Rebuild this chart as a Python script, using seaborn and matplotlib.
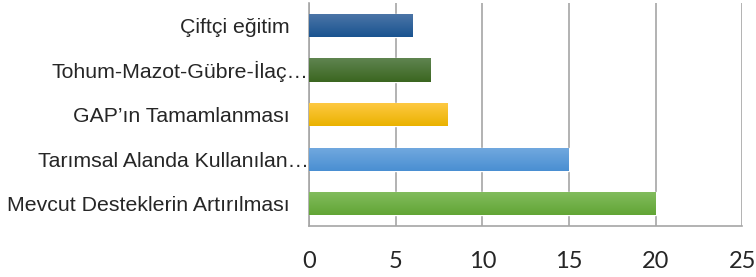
import numpy as np
import pandas as pd
import seaborn as sns
import matplotlib.pyplot as plt
from matplotlib.colors import LinearSegmentedColormap
from matplotlib.ticker import MultipleLocator, FixedLocator
import matplotlib.transforms as mtransforms

# data, top bar first
categories = ['Çiftçi eğitim', 'Tohum-Mazot-Gübre-İlaç…', 'GAP’ın Tamamlanması',
              'Tarımsal Alanda Kullanılan…', 'Mevcut Desteklerin Artırılması']
values = [6, 7, 8, 15, 20]
x_ticks = [0, 5, 10, 15, 20, 25]

# excel-ish gradient colours (top, bottom)
top_colors = ['#4d76a8', '#5f8450', '#ffca45', '#72a9df', '#83bd5f']
bottom_colors = ['#1a5490', '#3b6620', '#eab200', '#4a8fd2', '#62a535']

df = pd.DataFrame({'Kategori': categories, 'Değer': values})

sns.set_style('white')
plt.rcParams['font.family'] = ['Liberation Sans', 'DejaVu Sans']

fig = plt.figure(figsize=(7.56, 2.77), dpi=100)
ax = fig.add_axes([0.409, 0.184, 0.573, 0.805])

sns.barplot(data=df, x='Değer', y='Kategori', hue='Kategori', palette=bottom_colors,
            legend=False, width=0.52, ax=ax, orient='h')

# gradient fill clipped to each bar
for patch, c_top, c_bot in zip(ax.patches, top_colors, bottom_colors):
    x0, y0 = patch.get_x(), patch.get_y()
    w, h = patch.get_width(), patch.get_height()
    cmap = LinearSegmentedColormap.from_list('g', [c_top, c_bot])
    grad = np.linspace(0, 1, 64).reshape(-1, 1)
    im = ax.imshow(grad, cmap=cmap, aspect='auto', origin='upper',
                   extent=(x0, x0 + w, y0 + h, y0), zorder=3)
    im.set_clip_path(patch)
    patch.set_zorder(2)

ax.set_xlim(0, 25)
ax.set_ylim(4.5, -0.5)
ax.set_xlabel('')
ax.set_ylabel('')

ax.xaxis.set_major_locator(FixedLocator(x_ticks))
ax.grid(axis='x', color='#a6a6a6', linewidth=1.2, zorder=0)
ax.set_axisbelow(True)

for side in ['top', 'right']:
    ax.spines[side].set_visible(False)
for side in ['left', 'bottom']:
    ax.spines[side].set_color('#a6a6a6')
    ax.spines[side].set_linewidth(1.2)

ax.tick_params(axis='x', which='major', direction='out', length=5, width=1.2,
               color='#a6a6a6', pad=13, labelsize=17)
for lab in ax.get_xticklabels():
    lab.set_fontfamily(['Lato', 'DejaVu Sans'])

ax.yaxis.set_minor_locator(MultipleLocator(1, offset=0.5))
ax.tick_params(axis='y', which='major', length=0, pad=14, labelsize=15.3)
ax.tick_params(axis='y', which='minor', direction='out', length=5, width=1.2,
               color='#a6a6a6')

# truncated labels sit right up against the axis
shift = mtransforms.ScaledTranslation(19 / 100, 0, fig.dpi_scale_trans)
for lab in ax.get_yticklabels():
    if lab.get_text().endswith('…'):
        lab.set_transform(lab.get_transform() + shift)

fig.savefig('out.png', dpi=100)
